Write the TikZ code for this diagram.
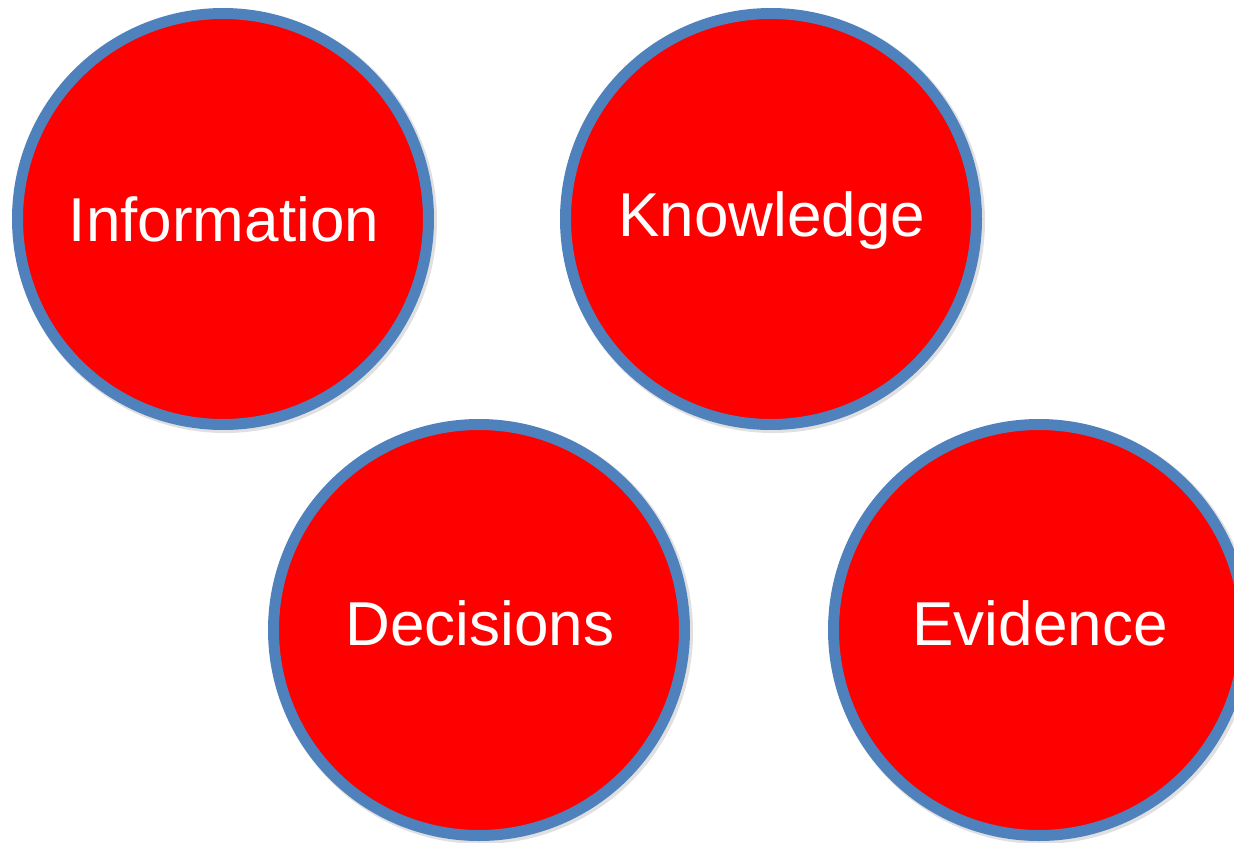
\documentclass[tikz,border=0pt]{standalone}
\usepackage{fontspec}
\setmainfont{Liberation Sans}
\definecolor{ringblue}{HTML}{4F81BD}
\definecolor{discred}{HTML}{FF0000}
\begin{document}
\begin{tikzpicture}[x=1pt,y=-1pt,
  disc/.style={circle,fill=discred,draw=ringblue,line width=11pt,minimum size=411pt,inner sep=0pt},
  shade/.style={circle,fill=black!12,minimum size=424pt,inner sep=0pt},
  lbl/.style={text=white,font=\fontsize{62}{62}\selectfont,anchor=base}]
\useasboundingbox (0,0) rectangle (1234,843);
\clip (0,0) rectangle (1234,843);
\node[shade] (s1) at (225,221) {};
\node[shade] (s2) at (773,221) {};
\node[shade] (s3) at (481,632) {};
\node[shade] (s4) at (1041,632) {};
\node[disc] (c1) at (223,219) {};
\node[disc] (c2) at (771,219) {};
\node[disc] (c3) at (479,630) {};
\node[disc] (c4) at (1039,630) {};
\node[lbl] (t1) at (224,241) {Information};
\node[lbl] (t2) at (772,236) {Knowledge};
\node[lbl] (t3) at (480,645) {Decisions};
\node[lbl] (t4) at (1040,645) {Evidence};
\end{tikzpicture}
\end{document}
